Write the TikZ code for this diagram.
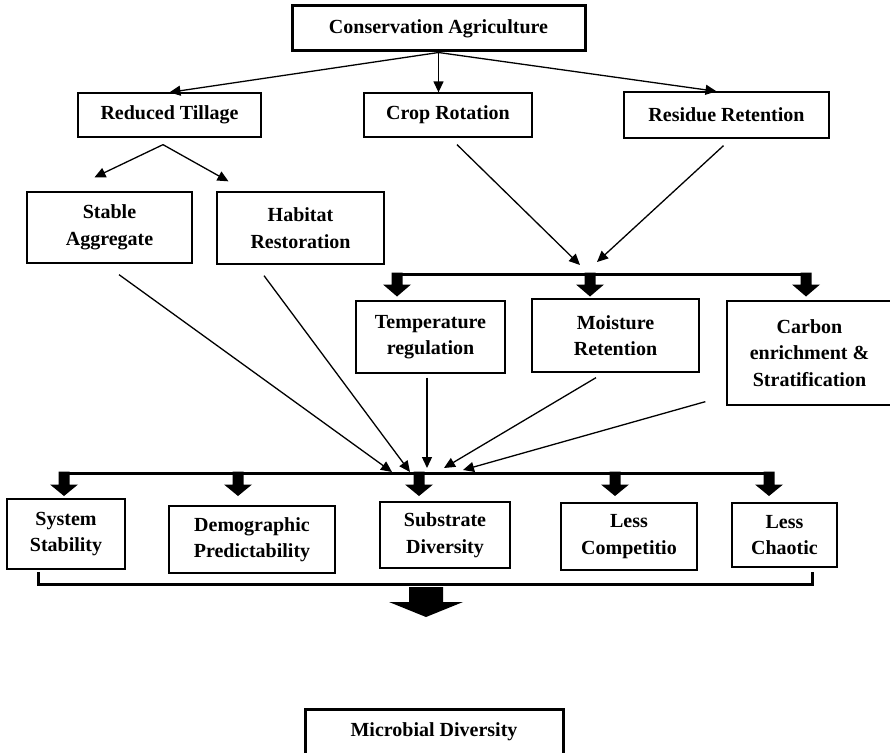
\documentclass[tikz,border=0pt]{standalone}
\usepackage{fontspec}
\setmainfont{Liberation Serif}
\usetikzlibrary{arrows.meta, positioning, calc}

\begin{document}
\begin{tikzpicture}[x=1pt, y=-1pt,
  box/.style={draw, line width=1.3pt, align=center, inner sep=0pt,
    font=\bfseries\fontsize{20}{26.5}\selectfont},
  mainbox/.style={box, line width=3pt},
  thinarr/.style={line width=1.3pt, -{Triangle[length=11pt,width=10pt]}},
  bar/.style={line width=3pt},
  pics/blockdown/.style args={#1/#2/#3/#4}{code={
    \fill (-#1/2,0) -- (#1/2,0) -- (#1/2,#3) -- (#2/2,#3) -- (0,#4)
      -- (-#2/2,#3) -- (-#1/2,#3) -- cycle;}}
]
\useasboundingbox (0,0) rectangle (890,752);

% top level
\node[mainbox, minimum width=293pt, minimum height=45pt] (ca) at (438.5,28.5) {Conservation Agriculture};
\node[box, minimum width=183pt, minimum height=44pt] (rt) at (169.5,115) {Reduced Tillage};
\node[box, minimum width=168pt, minimum height=44pt] (cr) at (448,115) {Crop Rotation};
\node[box, minimum width=205pt, minimum height=46pt] (rr) at (726.5,115) {Residue Retention};

\draw[thinarr] (ca.south) -- (rt.north);
\draw[thinarr] (ca.south) -- (ca.south |- cr.north);
\draw[thinarr] (ca.south) -- ([xshift=-10pt]rr.north);

% tillage effects
\node[box, minimum width=165pt, minimum height=71pt] (sa) at (109.5,227.5) {Stable\\Aggregate};
\node[box, minimum width=167pt, minimum height=72pt] (hr) at (300.5,228) {Habitat\\Restoration};

\coordinate (rtfork) at ([xshift=-6.5pt,yshift=-7pt]rt.south);
\draw[thinarr] (rtfork) -- ([xshift=-15pt,yshift=14pt]sa.north);
\draw[thinarr] (rtfork) -- ([xshift=-72pt,yshift=10pt]hr.north);

% rotation + residue
\coordinate (hubA) at (589,270);
\draw[thinarr] ([xshift=9pt,yshift=-7pt]cr.south) -- ([xshift=-9pt,yshift=5pt]hubA);
\draw[thinarr] ([xshift=-3pt,yshift=-7pt]rr.south) -- ([xshift=8pt,yshift=8pt]hubA);

\draw[bar] (397,274) -- (809,274);
\foreach \x in {397,590,806}
  \pic at (\x,272.5) {blockdown=11/28/12/24};

\node[box, minimum width=149pt, minimum height=72pt] (tr) at (430.5,337) {Temperature\\regulation};
\node[box, minimum width=167pt, minimum height=73pt] (mr) at (615.5,335.5) {Moisture\\Retention};
\node[box, minimum width=165pt, minimum height=104pt] (ce) at (809.5,353) {Carbon\\enrichment \&\\Stratification};

% everything meets on the lower bar
\coordinate (hubB) at (427,473);
\draw[thinarr] ([xshift=9.5pt,yshift=-11pt]sa.south) -- ([xshift=-35pt,yshift=1pt]hubB);
\draw[thinarr] ([xshift=-36.5pt,yshift=-11pt]hr.south) -- ([xshift=-17pt,yshift=1pt]hubB);
\draw[thinarr] ([xshift=-3.5pt,yshift=-4pt]tr.south) -- ([yshift=5pt]hubB);
\draw[thinarr] ([xshift=-19.5pt,yshift=-5pt]mr.south) -- ([xshift=17pt,yshift=5pt]hubB);
\draw[thinarr] ([xshift=-21pt,yshift=4pt]ce.south west) -- ([xshift=36pt,yshift=3pt]hubB);

\draw[bar] (64,473) -- (770,473);
\foreach \x in {64,238,419,615,769}
  \pic at (\x,471.5) {blockdown=11/28/13/24.5};

\node[box, minimum width=118pt, minimum height=70pt] (ss) at (66,534) {System\\Stability};
\node[box, minimum width=166pt, minimum height=67pt] (dp) at (252,539.5) {Demographic\\Predictability};
\node[box, minimum width=130pt, minimum height=66pt] (sd) at (445,535) {Substrate\\Diversity};
\node[box, minimum width=136pt, minimum height=67pt] (lc) at (629,536.5) {Less\\Competitio};
\node[box, minimum width=105pt, minimum height=64pt] (lch) at (784.5,535) {Less\\Chaotic};

% bracket and big arrow
\coordinate (brL) at (38,572);
\coordinate (brR) at (812,572);
\draw[bar] (brL) -- ++(0,12) -| (brR);
\coordinate (brM) at (426,587);
\pic at (brM) {blockdown=34/74/15/30};

\node[mainbox, minimum width=258pt, minimum height=46pt] (md) at (434,732) {Microbial Diversity};
\end{tikzpicture}
\end{document}
